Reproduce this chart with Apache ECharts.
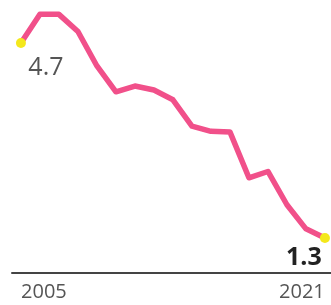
<!DOCTYPE html>
<html>
<head>
<meta charset="utf-8">
<script src="https://cdn.jsdelivr.net/npm/echarts@6/dist/echarts.min.js"></script>
<style>
  html, body { margin: 0; padding: 0; background: #fff; }
  #chart { width: 331px; height: 305px; }
</style>
</head>
<body>
<div id="chart"></div>
<script>
// 数据
var years = [2005, 2006, 2007, 2008, 2009, 2010, 2011, 2012, 2013, 2014, 2015, 2016, 2017, 2018, 2019, 2020, 2021];
var values = [4.7, 5.2, 5.2, 4.9, 4.3, 3.85, 3.95, 3.88, 3.71, 3.25, 3.16, 3.15, 2.35, 2.46, 1.88, 1.46, 1.3];
var yearLabels = [2005, 2021];

var chart = echarts.init(document.getElementById('chart'));
var last = values.length - 1;

var seriesData = values.map(function (v, i) {
    var item = { value: [years[i], v] };
    if (i === 0 || i === last) {
        item.itemStyle = { color: '#f4e81c' };
        item.label = {
            show: true,
            position: 'inside',
            offset: i === 0 ? [25, 25] : [-21, 20],
            formatter: String(v),
            fontFamily: 'Open Sans',
            fontSize: 25,
            fontWeight: i === 0 ? 'normal' : 'bold',
            color: i === 0 ? '#555' : '#222'
        };
    }
    return item;
});

var option = {
    animation: false,
    grid: { left: 12, right: 0, top: 0, bottom: 32 },
    xAxis: {
        type: 'value',
        min: 2004.53,
        max: 2021.32,
        splitLine: { show: false },
        axisLine: { show: true, lineStyle: { color: '#444', width: 2 } },
        axisTick: { show: false },
        axisLabel: {
            customValues: yearLabels,
            margin: 9,
            color: '#555',
            fontFamily: 'Open Sans',
            fontSize: 20,
            formatter: function (v) {
                return v === 2005 ? '{l|' + v + '}' : '{r|' + v + '}';
            },
            rich: {
                l: { padding: [0, 0, 0, 46], fontSize: 20, color: '#555', fontFamily: 'Open Sans' },
                r: { padding: [0, 46, 0, 0], fontSize: 20, color: '#555', fontFamily: 'Open Sans' }
            }
        }
    },
    yAxis: {
        type: 'value',
        min: 0.69,
        max: 5.45,
        show: false
    },
    series: [{
        type: 'line',
        data: seriesData,
        symbol: 'circle',
        symbolSize: function (val, params) {
            return (params.dataIndex === 0 || params.dataIndex === last) ? 10 : 0;
        },
        clip: false,
        lineStyle: { color: '#f1508a', width: 5.5, join: 'round', cap: 'round' },
        itemStyle: { color: '#f1508a' },
        z: 2
    }]
};
chart.setOption(option);
</script>
</body>
</html>
